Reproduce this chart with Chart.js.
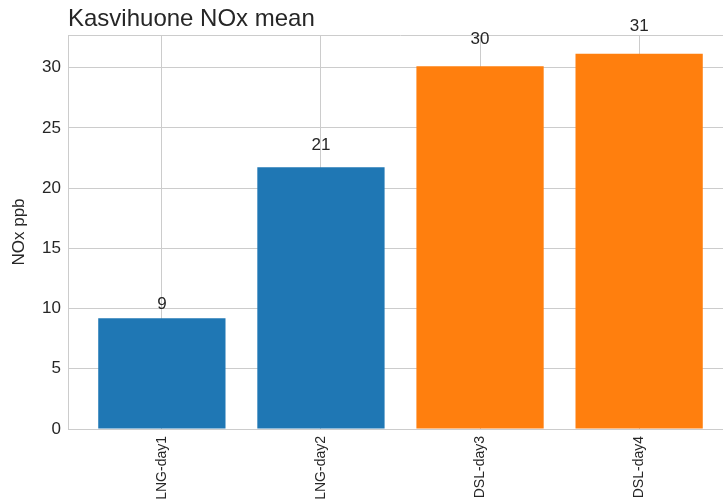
<!DOCTYPE html>
<html>
<head>
<meta charset="utf-8">
<title>Kasvihuone NOx mean</title>
<script src="https://cdn.jsdelivr.net/npm/chart.js@4/dist/chart.umd.min.js"></script>
<style>
    html, body { margin: 0; padding: 0; background: #ffffff; overflow: hidden; }
    #wrap { width: 723px; height: 503px; overflow: hidden; }
</style>
</head>
<body>
<div id="wrap">
    <canvas id="chart" width="740" height="503"></canvas>
</div>
<script>
// 日ごとの NOx 平均値 (ppb)
const categories = ["LNG-day1", "LNG-day2", "DSL-day3", "DSL-day4"];
const noxMean = [9.20, 21.73, 30.12, 31.15];
const barColors = ["#1f77b4", "#1f77b4", "#ff7f0e", "#ff7f0e"];
const yTicks = [0, 5, 10, 15, 20, 25, 30];

const titleText = "Kasvihuone NOx mean";
const yLabel = "NOx ppb";

const fontFamily = "'Liberation Sans', Arial, sans-serif";
const textColor = "#262626";
const gridColor = "#cccccc";

// 棒の位置はx=0,1,2,3 (左右に少し余白)
const xMin = -0.59;
const xMax = categories.length - 1 + 0.59;
const yMax = Math.max(...noxMean) * 1.05;

// タイトルと上の枠線
const framePlugin = {
    id: 'frame',
    beforeDatasetsDraw(chart) {
        const { ctx, chartArea } = chart;
        ctx.save();
        ctx.strokeStyle = gridColor;
        ctx.lineWidth = 1;
        ctx.beginPath();
        ctx.moveTo(chartArea.left, chartArea.top + 0.5);
        ctx.lineTo(chartArea.right, chartArea.top + 0.5);
        ctx.moveTo(chartArea.right - 0.5, chartArea.top);
        ctx.lineTo(chartArea.right - 0.5, chartArea.bottom);
        ctx.stroke();
        ctx.restore();
    },
    afterDraw(chart) {
        const { ctx, chartArea } = chart;
        ctx.save();
        ctx.fillStyle = textColor;
        ctx.font = "24px " + fontFamily;
        ctx.textAlign = 'left';
        ctx.textBaseline = 'alphabetic';
        ctx.fillText(titleText, chartArea.left, 26);
        ctx.restore();
    }
};

// 棒の上に値(整数部分)を表示
const valueLabelPlugin = {
    id: 'valueLabels',
    afterDatasetsDraw(chart) {
        const { ctx } = chart;
        const xs = chart.scales.x;
        const ys = chart.scales.y;
        ctx.save();
        ctx.fillStyle = textColor;
        ctx.font = "17px " + fontFamily;
        ctx.textAlign = 'center';
        ctx.textBaseline = 'bottom';
        noxMean.forEach((v, i) => {
            ctx.fillText(String(Math.trunc(v)), xs.getPixelForValue(i), ys.getPixelForValue(v * 1.05));
        });
        ctx.restore();
    }
};

const data = {
    datasets: [{
        label: 'NOx mean',
        data: noxMean.map((v, i) => ({ x: i, y: v })),
        backgroundColor: barColors,
        borderWidth: 0,
        categoryPercentage: 0.8,
        barPercentage: 1.0
    }]
};

new Chart(document.getElementById('chart'), {
    type: 'bar',
    data: data,
    options: {
        responsive: false,
        animation: false,
        events: [],
        layout: { padding: { left: 0, right: 7, top: 35, bottom: 0 } },
        plugins: {
            legend: { display: false },
            tooltip: { enabled: false },
            title: { display: false }
        },
        scales: {
            x: {
                type: 'linear',
                min: xMin,
                max: xMax,
                offset: false,
                afterFit(scale) { scale.height = 74; },
                afterBuildTicks(scale) {
                    scale.ticks = categories.map((c, i) => ({ value: i }));
                },
                grid: { color: gridColor, lineWidth: 1, drawTicks: false, offset: false },
                border: { color: gridColor, width: 1 },
                ticks: {
                    autoSkip: false,
                    minRotation: 90,
                    maxRotation: 90,
                    padding: 7,
                    color: textColor,
                    font: { family: fontFamily, size: 14 },
                    callback: (v) => categories[v]
                }
            },
            y: {
                min: 0,
                max: yMax,
                afterFit(scale) { scale.width = 68; },
                afterBuildTicks(scale) {
                    scale.ticks = yTicks.map(v => ({ value: v }));
                },
                grid: { color: gridColor, lineWidth: 1, drawTicks: false },
                border: { color: gridColor, width: 1 },
                ticks: {
                    padding: 7,
                    color: textColor,
                    font: { family: fontFamily, size: 17 }
                },
                title: {
                    display: true,
                    text: yLabel,
                    color: textColor,
                    padding: { top: 9, bottom: 0 },
                    font: { family: fontFamily, size: 17 }
                }
            }
        }
    },
    plugins: [framePlugin, valueLabelPlugin]
});
</script>
</body>
</html>
